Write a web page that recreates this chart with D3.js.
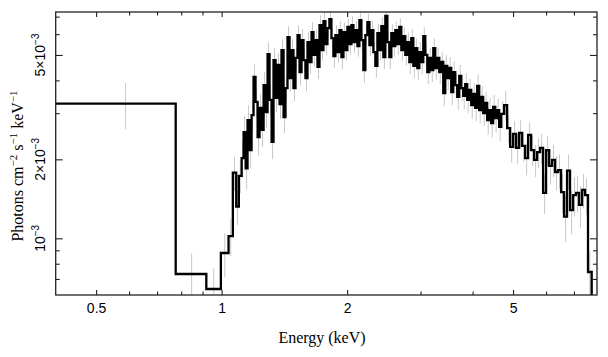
<!DOCTYPE html>
<html><head><meta charset="utf-8">
<script src="https://cdn.jsdelivr.net/npm/d3@7"></script>
<style>body{margin:0;background:#fff}svg{display:block}</style>
</head><body>
<svg id="c" width="608" height="357"></svg>
<script>
// Bin edges (keV)
const binEdges = [0.40, 0.776, 0.919, 0.996, 1.039, 1.064, 1.084, 1.100,
1.117, 1.129, 1.142, 1.154, 1.167, 1.180, 1.193, 1.206, 1.220, 1.233,
1.247, 1.261, 1.275, 1.289, 1.303, 1.318, 1.332, 1.347, 1.362, 1.377,
1.392, 1.408, 1.423, 1.439, 1.455, 1.471, 1.487, 1.504, 1.521, 1.538,
1.555, 1.572, 1.589, 1.607, 1.625, 1.643, 1.661, 1.679, 1.698, 1.717,
1.736, 1.755, 1.774, 1.794, 1.814, 1.834, 1.854, 1.875, 1.896, 1.917,
1.938, 1.960, 1.981, 2.003, 2.026, 2.048, 2.071, 2.094, 2.117, 2.140,
2.164, 2.188, 2.212, 2.237, 2.262, 2.287, 2.312, 2.338, 2.364, 2.390,
2.416, 2.443, 2.470, 2.498, 2.525, 2.553, 2.582, 2.610, 2.639, 2.668,
2.698, 2.728, 2.758, 2.789, 2.820, 2.851, 2.883, 2.915, 2.947, 2.980,
3.013, 3.046, 3.080, 3.114, 3.148, 3.183, 3.219, 3.254, 3.290, 3.327,
3.364, 3.401, 3.439, 3.477, 3.515, 3.554, 3.594, 3.634, 3.674, 3.715,
3.756, 3.797, 3.840, 3.882, 3.925, 3.969, 4.013, 4.057, 4.102, 4.148,
4.194, 4.240, 4.287, 4.335, 4.383, 4.431, 4.480, 4.530, 4.580, 4.631,
4.683, 4.761, 4.840, 4.921, 5.003, 5.086, 5.171, 5.257, 5.345, 5.434,
5.525, 5.617, 5.711, 5.806, 5.903, 6.001, 6.101, 6.203, 6.306, 6.412,
6.519, 6.627, 6.738, 6.850, 6.964, 7.081, 7.199, 7.319, 7.441, 7.565,
7.720, 7.900];

// Flux per bin, in units of 1e-3 photons cm^-2 s^-1 keV^-1
const fluxE3 = [3.26, 0.731, 0.641, 0.879, 1.02, 1.78, 1.32, 1.73,
2.02, 2.54, 1.85, 2.82, 2.17, 2.95, 4.12, 3.31, 2.43, 3.14,
2.59, 3.84, 3.03, 5.04, 3.37, 2.33, 4.78, 3.43, 4.58, 3.25,
5.22, 2.90, 3.74, 5.85, 4.08, 5.22, 3.74, 4.87, 5.95, 4.30,
5.70, 4.78, 4.08, 5.60, 4.70, 6.11, 5.00, 5.70, 4.50, 6.50,
5.22, 6.73, 5.50, 6.33, 6.85, 5.80, 4.95, 5.95, 5.13, 6.22,
4.91, 6.11, 5.22, 6.39, 5.50, 6.50, 5.60, 6.22, 5.41, 6.79,
5.70, 4.38, 5.95, 6.67, 5.45, 6.22, 5.13, 4.54, 6.06, 5.22,
6.44, 4.91, 7.04, 5.60, 4.91, 6.06, 5.41, 6.22, 5.50, 6.39,
5.22, 5.90, 5.00, 5.60, 4.70, 5.80, 4.54, 5.31, 4.46, 5.13,
4.70, 5.90, 5.00, 4.30, 4.87, 4.38, 5.31, 4.46, 4.87, 4.30,
4.70, 3.58, 4.54, 4.08, 4.46, 3.61, 4.30, 3.84, 3.46, 4.16,
3.74, 3.49, 3.87, 3.37, 3.68, 3.22, 3.55, 3.14, 3.81, 3.08,
3.46, 3.00, 3.28, 2.82, 3.08, 2.75, 3.17, 2.87, 3.08, 2.66,
2.98, 3.22, 2.63, 2.23, 2.50, 2.21, 2.52, 2.25, 2.02, 2.48,
2.17, 1.99, 2.13, 2.21, 1.49, 2.17, 1.89, 1.99, 1.79, 1.82,
1.50, 1.21, 1.81, 1.28, 1.46, 1.49, 1.34, 1.53, 1.46, 0.744,
0.45];

// Relative 1-sigma error per bin (%)
const errPct = [20, 20, 20, 19, 16, 15, 15, 14,
16, 15, 17, 14, 15, 14, 12, 13, 15, 13,
14, 12, 13, 11, 13, 14, 11, 12, 11, 12,
10, 13, 11, 10, 11, 10, 11, 10, 9, 11,
10, 10, 11, 9, 10, 9, 10, 9, 10, 9,
9, 8, 9, 9, 8, 9, 10, 9, 9, 8,
10, 9, 9, 8, 9, 8, 9, 8, 9, 8,
9, 11, 9, 8, 9, 8, 9, 10, 8, 9,
8, 10, 8, 9, 10, 8, 9, 8, 9, 8,
9, 8, 9, 9, 10, 8, 10, 9, 10, 9,
10, 8, 9, 10, 9, 10, 9, 10, 9, 10,
9, 11, 10, 10, 10, 11, 10, 11, 11, 10,
11, 11, 10, 11, 10, 11, 10, 11, 10, 11,
10, 11, 10, 12, 11, 12, 11, 12, 11, 12,
12, 13, 12, 13, 12, 13, 12, 13, 14, 12,
13, 14, 13, 13, 17, 13, 15, 14, 15, 15,
17, 20, 15, 19, 17, 16, 18, 15, 16, 20,
0];

const xMajorTicks = [0.5, 1, 2, 5];
const xMajorLabels = ["0.5", "1", "2", "5"];
const xMinorTicks = [0.6, 0.7, 0.8, 0.9, 3, 4, 6, 7];
const yMajorTicks = [1e-3, 2e-3, 5e-3];
const yMajorMantissa = ["", "2×", "5×"];
const yMajorExponent = ["−3", "−3", "−3"];
const yMinorTicks = [7e-4, 8e-4, 9e-4, 3e-3, 4e-3, 6e-3, 7e-3];
const xTitle = "Energy (keV)";

// Layout
const L = 55.7, R = 597, T = 12, B = 295;
const svg = d3.select("#c");
const x = d3.scaleLog().domain([0.4, 7.95]).range([L, R]);
const y = d3.scaleLog().domain([6.08e-4, 7.29e-3]).range([B, T]);

svg.append("defs").append("clipPath").attr("id", "clip")
  .append("rect").attr("x", L).attr("y", T).attr("width", R - L).attr("height", B - T);

const bins = fluxE3.map((f, i) => ({
  lo: binEdges[i], hi: binEdges[i + 1], v: f * 1e-3, e: errPct[i] / 100
}));

const plot = svg.append("g").attr("clip-path", "url(#clip)");

// error bars
plot.selectAll("line.err").data(bins.filter(d => d.e > 0)).join("line")
  .attr("class", "err")
  .attr("x1", d => x((d.lo + d.hi) / 2)).attr("x2", d => x((d.lo + d.hi) / 2))
  .attr("y1", d => y(d.v * (1 + d.e))).attr("y2", d => y(d.v * Math.max(0.05, 1 - d.e)))
  .attr("stroke", "#c8c8c8").attr("stroke-width", 1);

// step histogram
const pts = bins.map(d => [d.lo, d.v]);
pts.push([bins[bins.length - 1].hi, bins[bins.length - 1].v]);
plot.append("path").datum(pts)
  .attr("d", d3.line().x(d => x(d[0])).y(d => y(d[1])).curve(d3.curveStepAfter))
  .attr("fill", "none").attr("stroke", "#000").attr("stroke-width", 2.3)
  .attr("stroke-linejoin", "miter");

// axes
const axCol = "#222";
function styleAxis(g) {
  g.select(".domain").remove();
  g.selectAll(".tick line").attr("stroke", axCol).attr("stroke-width", 1.1);
  g.selectAll("text").attr("fill", "#000").style("font-family", "'Liberation Sans', Arial, sans-serif").style("font-size", "14px");
}
svg.append("g").attr("transform", `translate(0,${B})`)
  .call(d3.axisBottom(x).tickValues(xMajorTicks).tickSize(-5).tickPadding(8)
    .tickFormat((d, i) => xMajorLabels[i])).call(styleAxis);
svg.append("g").attr("transform", `translate(0,${B})`)
  .call(d3.axisBottom(x).tickValues(xMinorTicks).tickSize(-3.5).tickFormat("")).call(styleAxis);
svg.append("g").attr("transform", `translate(0,${T})`)
  .call(d3.axisTop(x).tickValues(xMajorTicks).tickSize(-5).tickFormat("")).call(styleAxis);
svg.append("g").attr("transform", `translate(0,${T})`)
  .call(d3.axisTop(x).tickValues(xMinorTicks).tickSize(-3.5).tickFormat("")).call(styleAxis);
svg.append("g").attr("transform", `translate(${L},0)`)
  .call(d3.axisLeft(y).tickValues(yMajorTicks).tickSize(-7).tickFormat("")).call(styleAxis);
svg.append("g").attr("transform", `translate(${L},0)`)
  .call(d3.axisLeft(y).tickValues(yMinorTicks).tickSize(-4).tickFormat("")).call(styleAxis);
svg.append("g").attr("transform", `translate(${R},0)`)
  .call(d3.axisRight(y).tickValues(yMajorTicks).tickSize(-7).tickFormat("")).call(styleAxis);
svg.append("g").attr("transform", `translate(${R},0)`)
  .call(d3.axisRight(y).tickValues(yMinorTicks).tickSize(-4).tickFormat("")).call(styleAxis);

// frame
svg.append("rect").attr("x", L).attr("y", T).attr("width", R - L).attr("height", B - T)
  .attr("fill", "none").attr("stroke", axCol).attr("stroke-width", 1.3);

// y tick labels (rotated)
yMajorTicks.forEach((v, i) => {
  const t = svg.append("text")
    .attr("transform", `translate(45,${y(v)}) rotate(-90)`)
    .attr("text-anchor", "middle")
    .style("font-family", "'Liberation Sans', Arial, sans-serif").style("font-size", "14px");
  t.append("tspan").text(yMajorMantissa[i] + "10");
  t.append("tspan").attr("dy", -6).style("font-size", "10px").text(yMajorExponent[i]);
});

// axis titles
svg.append("text").attr("x", 322).attr("y", 343).attr("text-anchor", "middle")
  .style("font-family", "'Liberation Serif', 'Times New Roman', serif").style("font-size", "16px")
  .text(xTitle);

const yt = svg.append("text").attr("transform", "translate(23,166) rotate(-90)")
  .attr("text-anchor", "middle")
  .style("font-family", "'Liberation Serif', 'Times New Roman', serif").style("font-size", "16px");
const yParts = [["Photons cm", ""], ["−2", "sup"], [" s", ""], ["−1", "sup"], [" keV", ""], ["−1", "sup"]];
yParts.forEach(p => {
  const s = yt.append("tspan").text(p[0]);
  if (p[1] === "sup") s.attr("dy", -6).style("font-size", "11px");
  else s.attr("dy", 6);
});
yt.select("tspan").attr("dy", 0);
</script>
</body></html>
